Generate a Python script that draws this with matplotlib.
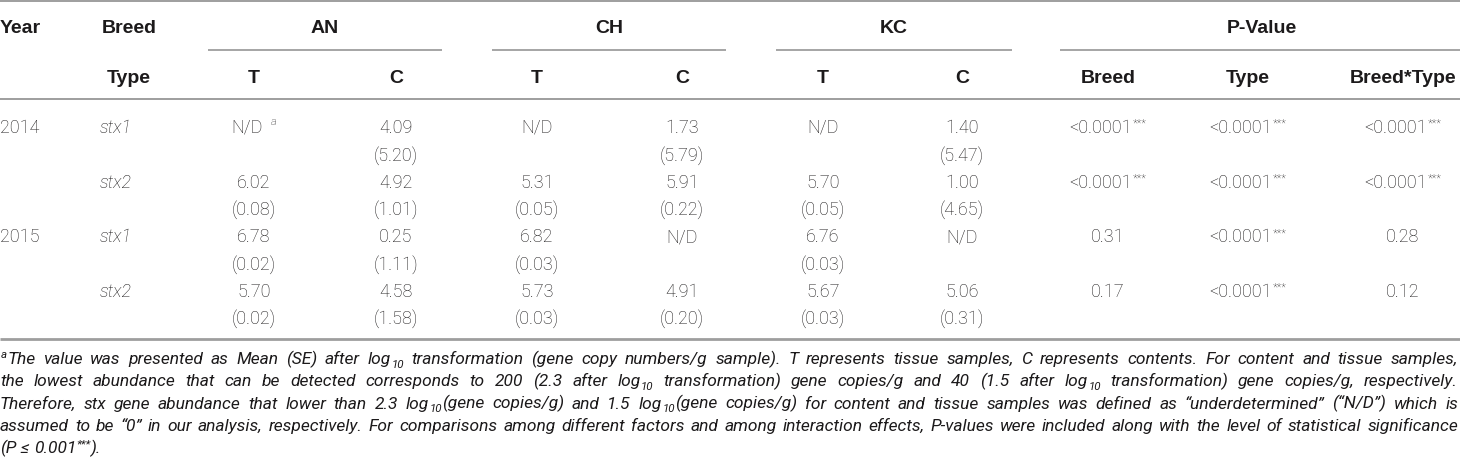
import re
import matplotlib
matplotlib.use('Agg')
import matplotlib.pyplot as plt

# ---------------- data ----------------
years = ['2014', '', '2015', '']
genes = ['stx1', 'stx2', 'stx1', 'stx2']
breeds = ['AN', 'CH', 'KC']
types = ['T', 'C']

AN_T_mean = [None, 6.02, 6.78, 5.70]
AN_T_se = [None, 0.08, 0.02, 0.02]
AN_C_mean = [4.09, 4.92, 0.25, 4.58]
AN_C_se = [5.20, 1.01, 1.11, 1.58]
CH_T_mean = [None, 5.31, 6.82, 5.73]
CH_T_se = [None, 0.05, 0.03, 0.03]
CH_C_mean = [1.73, 5.91, None, 4.91]
CH_C_se = [5.79, 0.22, None, 0.20]
KC_T_mean = [None, 5.70, 6.76, 5.67]
KC_T_se = [None, 0.05, 0.03, 0.03]
KC_C_mean = [1.40, 1.00, None, 5.06]
KC_C_se = [5.47, 4.65, None, 0.31]

p_headers = ['Breed', 'Type', 'Breed*Type']
p_breed = ['<0.0001***', '<0.0001***', '0.31', '0.17']
p_type = ['<0.0001***', '<0.0001***', '<0.0001***', '<0.0001***']
p_breed_type = ['<0.0001***', '<0.0001***', '0.28', '0.12']

footnote = [
    "^{a}The value was presented as Mean (SE) after log_{10} transformation (gene copy numbers/g sample). T represents tissue samples, C represents contents. For content and tissue samples,",
    "the lowest abundance that can be detected corresponds to 200 (2.3 after log_{10} transformation) gene copies/g and 40 (1.5 after log_{10} transformation) gene copies/g, respectively.",
    "Therefore, stx gene abundance that lower than 2.3 log_{10}(gene copies/g) and 1.5 log_{10}(gene copies/g) for content and tissue samples was defined as \u201cunderdetermined\u201d (\u201cN/D\u201d) which is",
    "assumed to be \u201c0\u201d in our analysis, respectively. For comparisons among different factors and among interaction effects, P-values were included along with the level of statistical significance",
    "(P \u2264 0.001^{***}).",
]

# ---------------- layout ----------------
W, H = 1460, 477
TEXT = '#1c1a1b'
RULE = '#9e9e9e'
DATA_FONT = 'Roboto'
HEAD_FONT = 'Liberation Sans'
FOOT_FONT = ['Roboto', 'DejaVu Sans']

fig = plt.figure(figsize=(W / 100, H / 100), dpi=100)
ax = fig.add_axes([0, 0, 1, 1])
ax.set_xlim(0, W)
ax.set_ylim(H, 0)
ax.axis('off')
renderer = fig.canvas.get_renderer()

head = dict(family=HEAD_FONT, weight='bold', size=14)
data = dict(family=DATA_FONT, weight='light', size=13)
sup = dict(family=DATA_FONT, weight='light', size=8, style='italic')
stars = dict(family=DATA_FONT, weight='light', size=8)


def build(runs, y):
    objs = []
    for txt, props, dy, gap in runs:
        t = ax.text(0, y + dy, txt, va='baseline', ha='left', color=TEXT, **props)
        w = t.get_window_extent(renderer).width
        objs.append((t, gap, w))
    total = sum(g + w for _, g, w in objs)
    return objs, total


def place(objs, x0):
    cx = x0
    for t, gap, w in objs:
        cx += gap
        t.set_x(cx)
        cx += w


def draw_runs(x, y, runs, ha='left'):
    objs, total = build(runs, y)
    x0 = x - total / 2 if ha == 'center' else (x - total if ha == 'right' else x)
    place(objs, x0)
    return total


def hline(x0, x1, y, lw=1.3):
    ax.plot([x0, x1], [y, y], color=RULE, lw=lw, solid_capstyle='butt')


# rules
hline(0, W, 1.5, 1.4)
hline(0, W, 100, 1.4)
hline(0, W, 340, 2.0)
group_spans = [(208, 442), (492, 726), (776, 1012)]
p_span = (1060, W)
for a, b in group_spans + [p_span]:
    hline(a, b, 51, 1.3)

# headers
base_h1, base_h2 = 33, 83
draw_runs(0, base_h1, [('Year', head, 0, 0)])
draw_runs(129, base_h1, [('Breed', head, 0, 0)], 'center')
draw_runs(129, base_h2, [('Type', head, 0, 0)], 'center')
for (a, b), name in zip(group_spans, breeds):
    draw_runs((a + b) / 2, base_h1, [(name, head, 0, 0)], 'center')
draw_runs(1262, base_h1, [('P-Value', head, 0, 0)], 'center')

col_x = [254, 396, 537, 682, 823, 962]
for i, cx in enumerate(col_x):
    draw_runs(cx, base_h2, [(types[i % 2], head, 0, 0)], 'center')
p_x = [1108, 1248, 1403]
for cx, name in zip(p_x, p_headers):
    draw_runs(cx, base_h2, [(name, head, 0, 0)], 'center')

# body
row0, dy_row = 133, 27.3
means = [AN_T_mean, AN_C_mean, CH_T_mean, CH_C_mean, KC_T_mean, KC_C_mean]
ses = [AN_T_se, AN_C_se, CH_T_se, CH_C_se, KC_T_se, KC_C_se]
pvals = [p_breed, p_type, p_breed_type]

for r in range(len(genes)):
    yb = row0 + 2 * r * dy_row
    ys = yb + dy_row
    if years[r]:
        draw_runs(0, yb, [(years[r], data, 0, 0)])
    draw_runs(100, yb, [(genes[r], dict(data, style='italic'), 0, 0)])
    for c, cx in enumerate(col_x):
        m, s = means[c][r], ses[c][r]
        if m is None:
            if r == 0 and c == 0:
                draw_runs(cx, yb, [('N/D', data, 0, 0), ('a', sup, -8, 9)], 'center')
            else:
                draw_runs(cx, yb, [('N/D', data, 0, 0)], 'center')
        else:
            draw_runs(cx, yb, [(f'{m:.2f}', data, 0, 0)], 'center')
        if s is not None:
            draw_runs(cx, ys, [(f'({s:.2f})', data, 0, 0)], 'center')
    for cx, col in zip(p_x, pvals):
        v = col[r]
        base = v.rstrip('*')
        st = v[len(base):]
        runs = [(base, data, 0, 0)]
        if st:
            runs.append((st, stars, -6, 1))
        draw_runs(cx, yb, runs, 'center')

# footnote
FOOT_SIZE = 12.5


def word_runs(word, size):
    fm = dict(family=FOOT_FONT, weight='normal', style='italic', size=size)
    fs = dict(fm, size=size * 0.66)
    runs = []
    for part in re.split(r'(\^\{[^}]*\}|_\{[^}]*\})', word):
        if not part:
            continue
        if part.startswith('^{'):
            runs.append((part[2:-1], fs, -size * 0.5, 0.5))
        elif part.startswith('_{'):
            runs.append((part[2:-1], fs, size * 0.3, 0.5))
        else:
            runs.append((part, fm, 0, 0.5 if runs else 0))
    return runs


def measure_line(line, size):
    tot = 0
    for wd in line.split(' '):
        objs, w = build(word_runs(wd, size), 0)
        for t, _, _ in objs:
            t.remove()
        tot += w
    return tot


space_px = lambda size: size * 100 / 72 * 0.25
min_space = lambda size: size * 100 / 72 * 0.14
target = 1458
nat = []
for line in footnote[:4]:
    n = len(line.split(' ')) - 1
    nat.append(measure_line(line, FOOT_SIZE) + n * min_space(FOOT_SIZE))
scale = min(1.0, (target - 2) / max(nat))
fsz = FOOT_SIZE * scale

fb0, fdy = 364, 22.3
for i, line in enumerate(footnote):
    yb = fb0 + i * fdy
    words = line.split(' ')
    built = [build(word_runs(wd, fsz), yb) for wd in words]
    widths = [w for _, w in built]
    if i < 4 and len(words) > 1:
        gap = (target - sum(widths)) / (len(words) - 1)
    else:
        gap = space_px(fsz)
    cx = 0
    for objs, w in built:
        place(objs, cx)
        cx += w + gap

fig.savefig('out.png', dpi=100, facecolor='white')
